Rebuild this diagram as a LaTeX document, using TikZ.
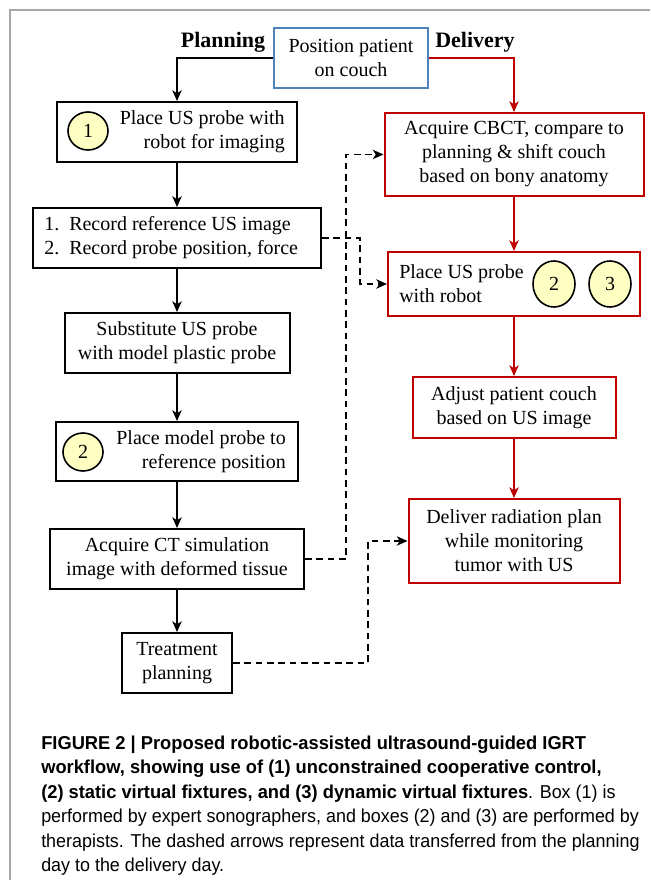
\documentclass[tikz,border=0pt]{standalone}
\usepackage{fontspec}
\setmainfont{Liberation Serif}
\newfontfamily\capfont{Liberation Sans}[FakeStretch=0.96,BoldFeatures={FakeStretch=0.98}]
\usetikzlibrary{arrows.meta,shapes.geometric}
\definecolor{dred}{HTML}{C00000}
\definecolor{bblue}{HTML}{4F81BD}
\definecolor{cyel}{HTML}{FFFFC4}
\definecolor{fgray}{HTML}{A6A6A6}
\begin{document}
\begin{tikzpicture}[x=0.75pt,y=-0.75pt,
  every node/.style={inner sep=0pt,font=\fontsize{15}{18}\selectfont},
  bx/.style 2 args={draw,line width=1.5pt,minimum width=#1*0.75pt,minimum height=#2*0.75pt,align=center},
  circ/.style 2 args={ellipse,draw,line width=1.2pt,fill=cyel,minimum width=#1*0.75pt,minimum height=#2*0.75pt},
  lbl/.style={font=\bfseries\fontsize{16.5}{18}\selectfont,anchor=base},
  arr/.style={line width=1.1pt,-{Stealth[length=8pt,width=7pt,inset=2.2pt]}},
  rarr/.style={arr,draw=dred,color=dred},
  darr/.style={arr,dash pattern=on 5pt off 3.5pt},
  capl/.style={anchor=base west,font=\capfont\fontsize{14}{18}\selectfont}]
\useasboundingbox (0,0) rectangle (650,880);
% frame
\draw[fgray,line width=1.5pt] (650,10) -- (10,10) -- (10,880);
% top
\node[bx={154}{60},draw=bblue] (pos) at (351,58) {Position patient\\on couch};
\node[lbl] (lplan) at (223,48) {Planning};
\node[lbl] (ldel) at (475,48) {Delivery};
% planning column
\node[bx={240}{60}] (b1) at (177,132) {};
\node[circ={40}{38}] (c1) at (88,131) {1};
\node[anchor=east,align=right] (t1) at (285,132) {Place US probe with\\robot for imaging};
\node[bx={288}{60}] (rec) at (177,238) {};
\node[anchor=west,align=left] (trec) at (44,238) {\makebox[18.75pt][l]{1.}Record reference US image\\\makebox[18.75pt][l]{2.}Record probe position, force};
\node[bx={225}{60}] (sub) at (177,343) {Substitute US probe\\with model plastic probe};
\node[bx={242}{59}] (pm) at (177,451.5) {};
\node[circ={40}{38}] (c2) at (83,452) {2};
\node[anchor=east,align=right] (tpm) at (286,452) {Place model probe to\\reference position};
\node[bx={254}{60}] (ct) at (177,559) {Acquire CT simulation\\image with deformed tissue};
\node[bx={110}{60}] (tp) at (177,663) {Treatment\\planning};
% delivery column
\node[bx={259}{83},draw=dred] (cbct) at (514,154.5) {Acquire CBCT, compare to\\planning \& shift couch\\based on bony anatomy};
\node[bx={252}{64},draw=dred] (place) at (514,284) {};
\node[anchor=west,align=left] (tplace) at (399,284) {Place US probe\\with robot};
\node[circ={42}{46}] (c3) at (554,284) {2};
\node[circ={42}{46}] (c4) at (610,284) {3};
\node[bx={203}{61},draw=dred] (adj) at (514,407.5) {Adjust patient couch\\based on US image};
\node[bx={211}{84},draw=dred] (del) at (514,541) {Deliver radiation plan\\while monitoring\\tumor with US};
% connectors
\draw[arr] (pos.west) -| (b1.north);
\draw[rarr] (pos.east) -| (cbct.north);
\draw[arr] (b1.south) -- (rec.north);
\draw[arr] (rec.south) -- (sub.north);
\draw[arr] (sub.south) -- (pm.north);
\draw[arr] (pm.south) -- (ct.north);
\draw[arr] (ct.south) -- (tp.north);
\draw[rarr] (cbct.south) -- (place.north);
\draw[rarr] (place.south) -- (adj.north);
\draw[rarr] (adj.south) -- (del.north);
\draw[darr] (rec.east) -- ++(38,0) |- (place.west);
\draw[darr] (ct.east) -- ++(41,0) |- (cbct.west);
\draw[darr] (tp.east) -- ++(135,0) |- (del.west);
% caption
\node[capl] (cap1) at (41,749) {\bfseries FIGURE 2 | Proposed robotic-assisted ultrasound-guided IGRT};
\node[capl] (cap2) at (41,773.5) {\bfseries workflow, showing use of (1) unconstrained cooperative control,};
\node[capl] (cap3) at (41,798) {\textbf{(2) static virtual fixtures, and (3) dynamic virtual fixtures}. Box (1) is};
\node[capl] (cap4) at (41,822.5) {performed by expert sonographers, and boxes (2) and (3) are performed by};
\node[capl] (cap5) at (41,847) {therapists. The dashed arrows represent data transferred from the planning};
\node[capl] (cap6) at (41,871.5) {day to the delivery day.};
\end{tikzpicture}
\end{document}
